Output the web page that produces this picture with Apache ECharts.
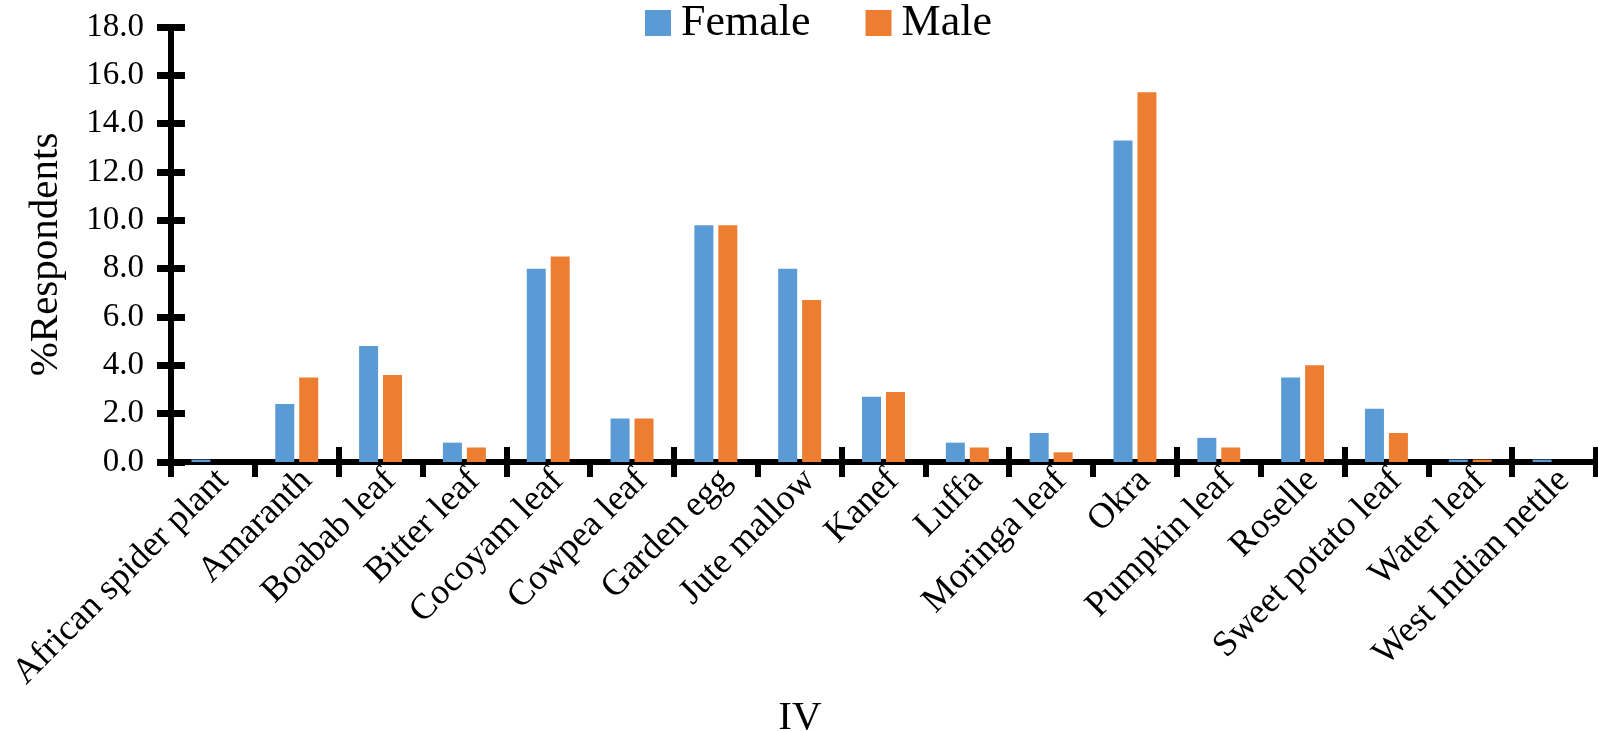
<!DOCTYPE html>
<html>
<head>
<meta charset="utf-8">
<script src="https://cdn.jsdelivr.net/npm/echarts@6/dist/echarts.min.js"></script>
<style>html,body{margin:0;padding:0;background:#fff}#c{width:1598px;height:731px}</style>
</head>
<body>
<div id="c"></div>
<script>
const categories = ['African spider plant','Amaranth','Boabab leaf','Bitter leaf','Cocoyam leaf','Cowpea leaf','Garden egg','Jute mallow','Kanef','Luffa','Moringa leaf','Okra','Pumpkin leaf','Roselle','Sweet potato leaf','Water leaf','West Indian nettle'];
const female = [0.1,2.4,4.8,0.8,8.0,1.8,9.8,8.0,2.7,0.8,1.2,13.3,1.0,3.5,2.2,0.1,0.1];
const male   = [0.0,3.5,3.6,0.6,8.5,1.8,9.8,6.7,2.9,0.6,0.4,15.3,0.6,4.0,1.2,0.1,0.0];
const seriesNames = ['Female','Male'];
const yTicks = {min:0, max:18, interval:2};
const xTitle = 'IV';
const yTitle = '%Respondents';

const FONT = '"Liberation Serif", "DejaVu Serif", serif';
const chart = echarts.init(document.getElementById('c'), null, {renderer:'canvas'});
const axisLine = {show:true, lineStyle:{color:'#000', width:6}};
chart.setOption({
  animation:false,
  textStyle:{fontFamily:FONT, color:'#000'},
  grid:{left:171, right:2, top:27, bottom:269, containLabel:false},
  title:{text:xTitle, left:795, top:693, textAlign:'center', textStyle:{fontFamily:FONT, fontSize:41, fontWeight:'normal', color:'#000'}},
  legend:{
    data:seriesNames, left:640, top:-4, icon:'rect', itemWidth:26, itemHeight:26, itemGap:55,
    textStyle:{fontFamily:FONT, fontSize:44, color:'#000', padding:[0,0,0,5]}
  },
  xAxis:[
    {type:'category', data:categories, gridIndex:0, position:'bottom',
     axisLine:axisLine,
     axisTick:{show:true, inside:false, length:15, lineStyle:{color:'#000', width:6}},
     axisLabel:{rotate:45, interval:0, margin:23, fontFamily:FONT, fontSize:36, color:'#000', padding:[0,-14,0,0]},
     splitLine:{show:false}},
    {type:'category', data:categories, gridIndex:0, position:'bottom',
     axisLine:{show:false},
     axisTick:{show:true, inside:true, length:15, lineStyle:{color:'#000', width:6}},
     axisLabel:{show:false}, splitLine:{show:false}}
  ],
  yAxis:[
    {type:'value', min:yTicks.min, max:yTicks.max, interval:yTicks.interval,
     axisLine:axisLine,
     axisTick:{show:true, inside:false, length:14, lineStyle:{color:'#000', width:7}},
     axisLabel:{margin:27, fontFamily:FONT, fontSize:33, color:'#000', formatter:v=>v.toFixed(1)},
     splitLine:{show:false},
     name:yTitle, nameLocation:'middle', nameGap:104, nameRotate:90,
     nameTextStyle:{fontFamily:FONT, fontSize:41, color:'#000', padding:[0,20,0,0]}},
    {type:'value', min:yTicks.min, max:yTicks.max, interval:yTicks.interval, position:'left',
     axisLine:{show:false},
     axisTick:{show:true, inside:true, length:14, lineStyle:{color:'#000', width:7}},
     axisLabel:{show:false}, splitLine:{show:false}}
  ],
  series:[
    {name:seriesNames[0], type:'bar', data:female, barWidth:19, barGap:'26%', xAxisIndex:0, yAxisIndex:0,
     itemStyle:{color:'#5B9BD5'}},
    {name:seriesNames[1], type:'bar', data:male, barWidth:19, barGap:'26%', xAxisIndex:0, yAxisIndex:0,
     itemStyle:{color:'#ED7D31'}}
  ]
});
</script>
</body>
</html>
